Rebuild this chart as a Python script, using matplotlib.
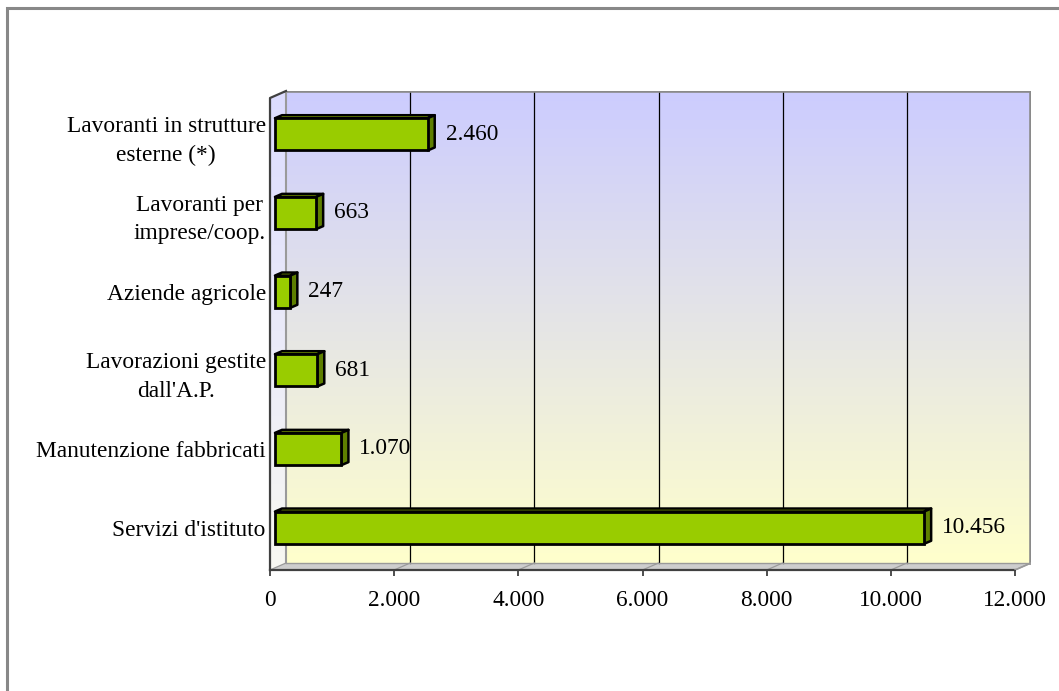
import numpy as np
import matplotlib
matplotlib.use("Agg")
import matplotlib.pyplot as plt
from matplotlib.patches import Polygon, Rectangle
from matplotlib.colors import LinearSegmentedColormap

# ---- data (bottom to top) ----
categories = ["Servizi d'istituto", "Manutenzione fabbricati", "Lavorazioni gestite\ndall'A.P.",
              "Aziende agricole", "Lavoranti per\nimprese/coop.", "Lavoranti in strutture\nesterne (*)"]
values = [10456, 1070, 681, 247, 663, 2460]
xticks = [0, 2000, 4000, 6000, 8000, 10000, 12000]

plt.rcParams['font.family'] = ['Liberation Serif', 'DejaVu Serif']
FS = 16.8

W, H, DPI = 1059, 691, 100
fig = plt.figure(figsize=(W / DPI, H / DPI), dpi=DPI)

# axes covers front plane + depth of the back wall
left_px, right_px, top_px, bot_px = 270, 1031, 91, 570
ax = fig.add_axes([left_px / W, (H - bot_px) / H, (right_px - left_px) / W, (bot_px - top_px) / H])

front_w_px, front_h_px = 745, 472
px_x = 12000 / front_w_px
px_y = 6 / front_h_px
DX, DY = 16 * px_x, 7 * px_y          # wall depth
ax.set_xlim(0, 12000 + DX)
ax.set_ylim(-0.5, 5.5 + DY)
ax.patch.set_visible(False)
for s in ax.spines.values():
    s.set_visible(False)

y0, y1 = -0.5, 5.5

# back wall gradient (lavender -> pale yellow)
wall_cmap = LinearSegmentedColormap.from_list("wall", ["#FFFFCC", "#CCCCFF"])
grad = np.linspace(0, 1, 256).reshape(-1, 1)
ax.imshow(grad, cmap=wall_cmap, origin='lower', aspect='auto',
          extent=[DX, 12000 + DX, y0 + DY, y1 + DY], zorder=0)

# left side wall
side_cmap = LinearSegmentedColormap.from_list("side", ["#F8F8F2", "#DCDCFF"])
side = Polygon([(0, y0), (DX, y0 + DY), (DX, y1 + DY), (0, y1)], closed=True,
               facecolor="#EDEDFA", edgecolor='none', zorder=0.5)
ax.add_patch(side)
ax.imshow(grad, cmap=side_cmap, origin='lower', aspect='auto',
          extent=[0, DX, y0, y1 + DY], zorder=0.6, clip_path=side)

# floor
ax.add_patch(Polygon([(0, y0), (12000, y0), (12000 + DX, y0 + DY), (DX, y0 + DY)],
                     closed=True, facecolor="#CDCDCD", edgecolor='none', zorder=1))

# gridlines on back wall and floor
for t in xticks[1:-1]:
    ax.plot([t + DX, t + DX], [y0 + DY, y1 + DY], color='black', lw=0.9, zorder=1.5)
for t in xticks:
    ax.plot([t, t + DX], [y0, y0 + DY], color='#9A9A9A', lw=0.9, zorder=1.5)

# back wall border
ax.plot([DX, 12000 + DX, 12000 + DX], [y1 + DY, y1 + DY, y0 + DY], color='#8A8A8A', lw=2.6,
        zorder=2, solid_capstyle='projecting')
ax.plot([DX, DX], [y0 + DY, y1 + DY], color='#9A9A9A', lw=1.5, zorder=2)
ax.plot([DX, 12000 + DX], [y0 + DY, y0 + DY], color='#9A9A9A', lw=1.0, zorder=2)

# front axis lines
ax.plot([0, 12000], [y0, y0], color='#404040', lw=1.6, zorder=3, clip_on=False)
ax.plot([0, 0, DX], [y0, y1, y1 + DY], color='#404040', lw=1.6, zorder=3, clip_on=False)
ax.plot([12000, 12000 + DX], [y0, y0 + DY], color='#9A9A9A', lw=1.2, zorder=3)

# 3D bars
bx, by = 5 * px_x, 3 * px_y      # offset of bar front face
dpx, dpy = 7 * px_x, 3 * px_y    # bar depth
bh = 0.41
ypos = np.arange(len(categories))
for i, v in enumerate(values):
    yc = ypos[i] + by
    yb, yt = yc - bh / 2, yc + bh / 2
    xr = bx + v
    ax.add_patch(Polygon([(bx, yt), (xr, yt), (xr + dpx, yt + dpy), (bx + dpx, yt + dpy)],
                         closed=True, facecolor='#A6D100', edgecolor='black', lw=1.8,
                         joinstyle='round', zorder=4))
    ax.add_patch(Polygon([(xr, yb), (xr + dpx, yb + dpy), (xr + dpx, yt + dpy), (xr, yt)],
                         closed=True, facecolor='#5E7F00', edgecolor='black', lw=1.8,
                         joinstyle='round', zorder=4))
ax.barh(ypos + by, values, left=bx, height=bh, color='#99CC00', edgecolor='black',
        linewidth=2, zorder=5)

# value labels
for i, v in enumerate(values):
    ax.annotate(f"{v:,}".replace(",", "."), xy=(v, ypos[i] + by), xytext=(23, 0),
                textcoords='offset pixels', ha='left', va='center', fontsize=FS, zorder=6)

# ticks
ax.set_xticks(xticks)
ax.set_xticklabels([f"{t:,}".replace(",", ".") for t in xticks], fontsize=FS)
ax.tick_params(axis='x', direction='out', length=4.5, width=1.3, color='#404040', pad=10)
ax.set_yticks(ypos + by)
ax.set_yticklabels(categories, fontsize=FS, multialignment='center', linespacing=1.5)
ax.tick_params(axis='y', length=0, pad=3)

# chart area border
fig.patches.append(Rectangle((7 / W, -0.2), 1.5, (H - 8) / H + 0.2, transform=fig.transFigure,
                             fill=False, edgecolor='#888888', lw=2.2))

fig.savefig("out.png", dpi=DPI)
